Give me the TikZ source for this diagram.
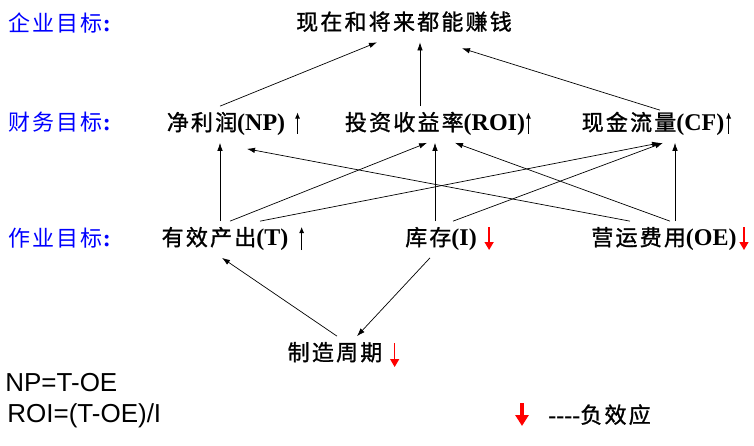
\documentclass[tikz,border=0pt]{standalone}
\usepackage{fontspec}
\setmainfont{Liberation Serif}
\newfontfamily\cjk[LetterSpace=10]{Noto Sans CJK SC}
\newfontfamily\cjkb[LetterSpace=10,FakeBold=1.2]{Noto Sans CJK SC}
\newfontfamily\arialf{Liberation Sans}
\usetikzlibrary{arrows.meta}
\newcommand{\zhtxt}[1]{{\cjkb\fontsize{22}{26}\selectfont #1}}
\newcommand{\zhtier}[1]{{\cjk\fontsize{22}{26}\selectfont #1}}
\newcommand{\entxt}[1]{{\fontsize{24}{28}\selectfont\bfseries #1}}
\definecolor{tierblue}{RGB}{0,0,255}
\definecolor{negred}{RGB}{255,0,0}
\tikzset{
  goalnode/.style={inner sep=0pt, text height=24pt, text depth=12pt, anchor=base},
  tier/.style={inner sep=0pt, anchor=base west, text=tierblue},
  formula/.style={inner sep=0pt, anchor=base west, font=\arialf\fontsize{26}{30}\selectfont},
  rise/.style={line width=0.8pt, -{Latex[length=6pt,width=5pt]}},
  fall/.style={negred, line width=1.3pt, -{Triangle[length=8pt,width=9pt]}},
  fallbig/.style={negred, line width=3.5pt, -{Triangle[length=11pt,width=13pt]}},
}
\begin{document}
\begin{tikzpicture}[x=1pt, y=-1pt, line width=0.7pt, >={Latex[length=8pt,width=5.5pt]}]
\useasboundingbox (0,0) rectangle (754,445);
% levels
\node[tier] (firm) at (8,31) {\zhtier{企业目标}\entxt{:}};
\node[tier] (fin) at (8,130) {\zhtier{财务目标}\entxt{:}};
\node[tier] (ops) at (8,246) {\zhtier{作业目标}\entxt{:}};
% goals
\node[goalnode] (goal) at (404,30) {\zhtxt{现在和将来都能赚钱}};
\node[goalnode] (np) at (226,130.5) {\zhtxt{净利润}\entxt{(NP)}};
\node[goalnode] (roi) at (435,130.5) {\zhtxt{投资收益率}\entxt{(ROI)}};
\node[goalnode] (cf) at (653,130.5) {\zhtxt{现金流量}\entxt{(CF)}};
\node[goalnode] (thru) at (225,245.5) {\zhtxt{有效产出}\entxt{(T)}};
\node[goalnode] (inv) at (441,245.5) {\zhtxt{库存}\entxt{(I)}};
\node[goalnode] (oe) at (664,245.5) {\zhtxt{营运费用}\entxt{(OE)}};
\node[goalnode] (cyc) at (335,360.5) {\zhtxt{制造周期}};
% up / down marks
\draw[rise] ([xshift=12pt,yshift=-3pt]np.base east) -- ++(0,-21);
\draw[rise] ([xshift=3pt,yshift=-3pt]roi.base east) -- ++(0,-21);
\draw[rise] ([xshift=4pt,yshift=-3pt]cf.base east) -- ++(0,-21);
\draw[rise] ([xshift=13pt,yshift=-4.5pt]thru.base east) -- ++(0,-23);
\draw[fall] ([xshift=12pt,yshift=18.5pt]inv.base east) -- ++(0,23);
\draw[fall] ([xshift=7pt,yshift=18.5pt]oe.base east) -- ++(0,23);
\draw[fall] ([xshift=12pt,yshift=17.5pt]cyc.base east) -- ++(0,24);
% links
\draw[->] ([xshift=-6pt]np.north) -- ([xshift=-27pt]goal.south);
\draw[->] ([xshift=-15pt]roi.north) -- ([xshift=16pt]goal.south);
\draw[->] ([xshift=7pt,yshift=-4pt]cf.north) -- ([xshift=58pt,yshift=-6pt]goal.south);
\draw[->] ([xshift=-5pt]thru.north) -- ([xshift=-6pt]np.south);
\draw[->] ([xshift=5pt]thru.north) -- ([xshift=-8pt]roi.south);
\draw[->] ([xshift=35pt]thru.north) -- ([xshift=7pt]cf.south);
\draw[->] ([xshift=-6pt]inv.north) -- (roi.south);
\draw[->] ([xshift=12pt]inv.north) -- ([xshift=10pt]cf.south);
\draw[->] ([xshift=-34pt]oe.north) -- ([xshift=21pt,yshift=-6pt]np.south);
\draw[->] ([xshift=6pt]oe.north) -- ([xshift=20pt]roi.south);
\draw[->] ([xshift=11pt]oe.north) -- ([xshift=22pt]cf.south);
\draw[->] ([xshift=2pt]cyc.north) -- ([xshift=-3pt]thru.south);
\draw[->] ([xshift=-11pt]inv.south) -- ([xshift=22pt]cyc.north);
% formulas and legend
\node[formula] (f1) at (5,391) {NP=T-OE};
\node[formula] (f2) at (7,422) {ROI=(T-OE)/I};
\node[inner sep=0pt, anchor=base west] (neg) at (548,423) {\entxt{-{}-{}-{}-}\zhtxt{负效应}};
\draw[fallbig] ([xshift=-26pt,yshift=20pt]neg.base west) -- ++(0,23);
\end{tikzpicture}
\end{document}
